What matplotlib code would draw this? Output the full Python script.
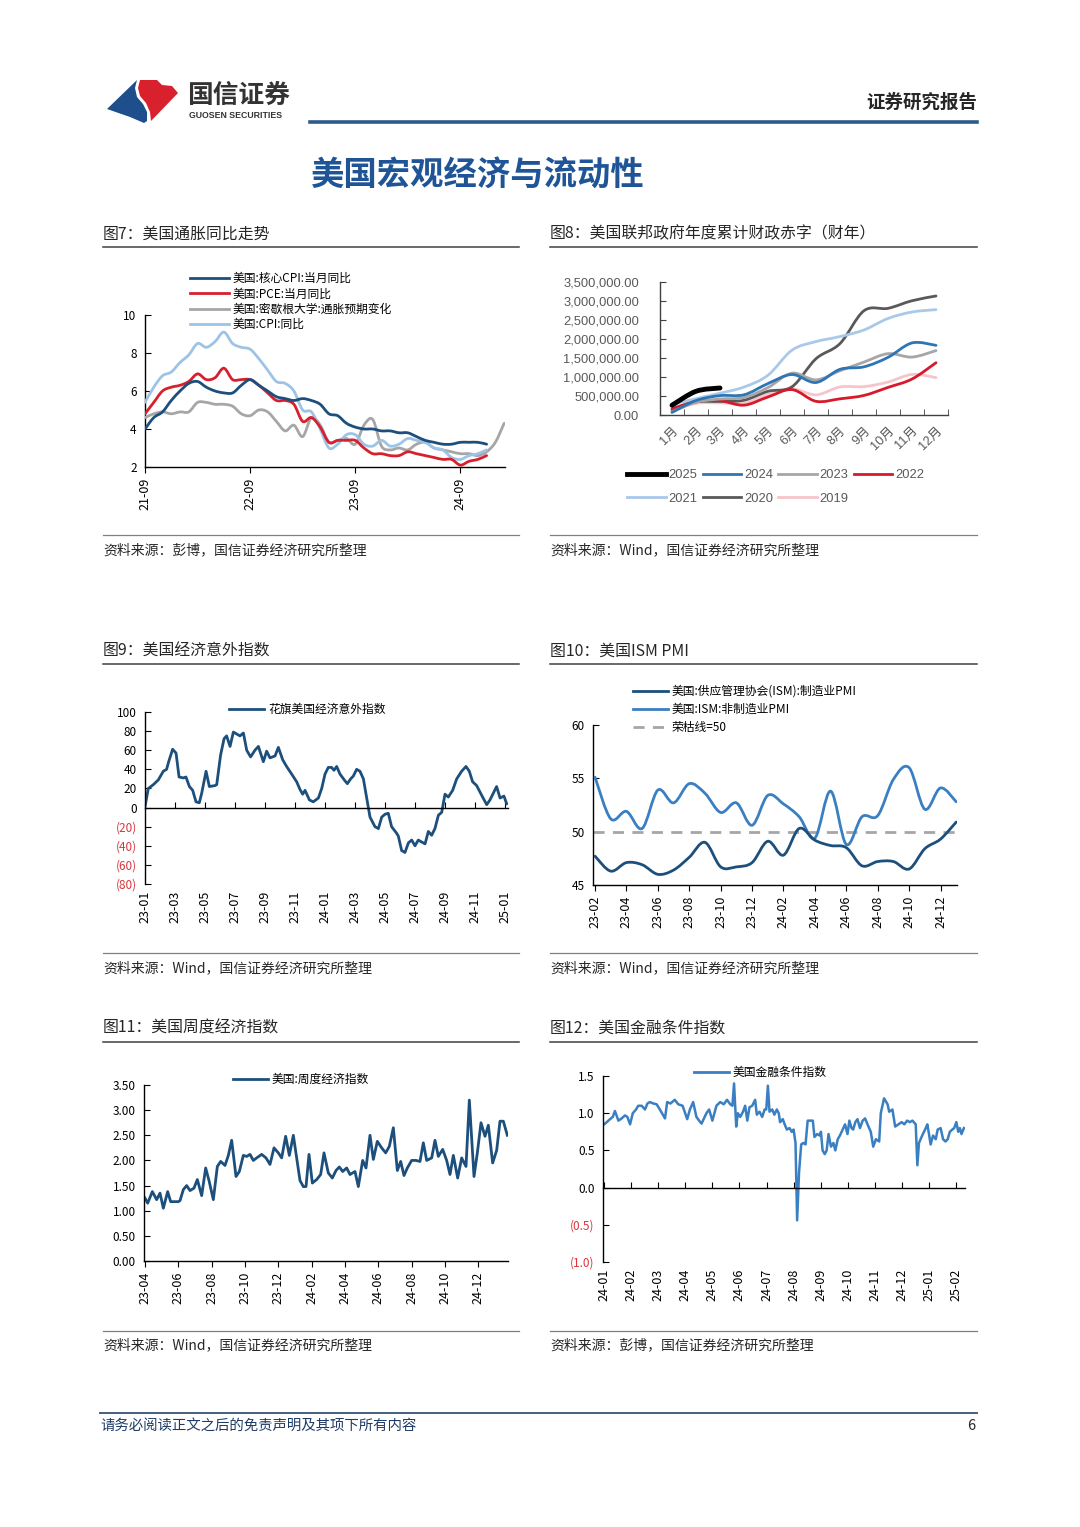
import numpy as np
import matplotlib
matplotlib.use("Agg")
import matplotlib.pyplot as plt
from matplotlib.lines import Line2D
from matplotlib.path import Path
from matplotlib.patches import PathPatch, Polygon

plt.rcParams['font.family'] = ['Noto Sans CJK SC', 'DejaVu Sans']
plt.rcParams['axes.linewidth'] = 1.0

# ---------------- data ----------------
# fig7: monthly, index 0 = 2021-09
core_cpi = [4.0, 4.6, 4.9, 5.5,
            6.0, 6.4, 6.5, 6.2, 6.0, 5.9, 5.9, 6.3, 6.6, 6.3, 6.0, 5.7,
            5.6, 5.5, 5.6, 5.5, 5.3, 4.8, 4.7, 4.3, 4.1, 4.0, 4.0, 3.9,
            3.9, 3.8, 3.8, 3.6, 3.4, 3.3, 3.2, 3.2, 3.3, 3.3, 3.3, 3.2]
pce = [4.8, 5.4, 6.0, 6.2,
       6.3, 6.5, 6.9, 6.6, 6.7, 7.2, 6.6, 6.6, 6.6, 6.3, 5.9, 5.5,
       5.5, 5.3, 4.4, 4.6, 4.1, 3.3, 3.4, 3.4, 3.4, 3.0, 2.7, 2.7,
       2.6, 2.6, 2.8, 2.7, 2.6, 2.5, 2.4, 2.4, 2.1, 2.3, 2.4, 2.6]
michigan = [4.6, 4.8, 4.9, 4.8,
            4.9, 4.9, 5.4, 5.4, 5.3, 5.3, 5.2, 4.8, 4.7, 5.0, 4.9, 4.4,
            3.9, 4.2, 3.6, 4.6, 4.2, 3.3, 3.4, 3.5, 3.2, 4.2, 4.5, 3.1,
            2.9, 3.0, 2.9, 3.2, 3.3, 3.0, 2.9, 2.8, 2.7, 2.7, 2.6, 2.8,
            3.3, 4.3]
cpi = [5.4, 6.2, 6.8, 7.0,
       7.5, 7.9, 8.5, 8.3, 8.6, 9.1, 8.5, 8.3, 8.2, 7.7, 7.1, 6.5,
       6.4, 6.0, 5.0, 4.9, 4.0, 3.0, 3.2, 3.7, 3.7, 3.2, 3.1, 3.4,
       3.1, 3.2, 3.5, 3.4, 3.3, 3.0, 2.9, 2.5, 2.4, 2.6, 2.7, 2.9]
infl_ticks = [0, 12, 24, 36]
infl_ticklabels = ['21-09', '22-09', '23-09', '24-09']

# fig8: cumulative fiscal-year deficit (USD mn)
fy_months = ['1月', '2月', '3月', '4月', '5月', '6月', '7月', '8月', '9月', '10月', '11月', '12月']
fy2025 = [257000, 624000, 711000]
fy2024 = [67000, 381000, 510000, 532000, 828000, 1065000, 855000, 1202000, 1268000, 1517000, 1897000, 1833000]
fy2023 = [88000, 337000, 421000, 460000, 723000, 1101000, 925000, 1165000, 1393000, 1614000, 1524000, 1695000]
fy2022 = [165000, 356000, 377000, 259000, 475000, 668000, 360000, 426000, 515000, 726000, 946000, 1375000]
fy2021 = [284000, 429000, 573000, 736000, 1047000, 1706000, 1932000, 2064000, 2238000, 2540000, 2711000, 2772000]
fy2020 = [134000, 343000, 357000, 389000, 624000, 743000, 1481000, 1880000, 2744000, 2807000, 3007000, 3132000]
fy2019 = [100000, 305000, 319000, 310000, 544000, 691000, 531000, 738000, 747000, 867000, 1067000, 984000]

# fig9: Citi surprise index, x = months since 2023-01
cesi_m = [0, 0.22, 0.56, 0.89, 1.22, 1.44, 1.56, 1.84, 2.07, 2.27,
          2.56, 2.73, 2.96, 3.18, 3.4, 3.62, 3.78, 4.07, 4.29, 4.67,
          4.78, 5.04, 5.27, 5.44, 5.67, 5.89, 6.11, 6.33, 6.56, 6.78,
          7.04, 7.33, 7.56, 7.89, 8.11, 8.33, 8.67, 8.89, 9.18, 9.44,
          9.78, 10.11, 10.33, 10.51, 10.67, 10.96, 11.22, 11.56, 11.78, 12.0,
          12.22, 12.44, 12.6, 12.78, 13.0, 13.33, 13.49, 13.71, 13.89, 14.11,
          14.33, 14.56, 14.78, 15.0, 15.33, 15.56, 15.78, 16.0, 16.22, 16.44,
          16.78, 16.89, 17.11, 17.33, 17.56, 17.78, 18.0, 18.22, 18.44, 18.67,
          18.89, 19.11, 19.33, 19.56, 19.78, 20.0, 20.22, 20.51, 20.78, 21.11,
          21.4, 21.62, 21.84, 22.11, 22.44, 22.78, 23.0, 23.44, 23.67, 23.93,
          24.11]
cesi_v = [1, 20, 24, 29, 38, 40, 47, 61, 57, 32,
          31, 32, 22, 18, 6, 5, 15, 38, 22, 23,
          24, 55, 72, 75, 64, 79, 77, 75, 78, 60,
          53, 60, 64, 48, 59, 52, 54, 63, 50, 43,
          35, 27, 19, 14, 18, 8, 6, 10, 20, 35,
          42, 42, 39, 43, 35, 28, 25, 30, 33, 40,
          38, 30, 10, -10, -20, -22, -10, -7, -6, -20,
          -27, -30, -45, -47, -37, -34, -40, -34, -36, -38,
          -25, -29, -22, -8, -5, 14, 11, 18, 30, 38,
          43, 38, 27, 23, 13, 3, 8, 22, 10, 12,
          4]
cesi_ticklabels = ['23-01', '23-03', '23-05', '23-07', '23-09', '23-11', '24-01',
                   '24-03', '24-05', '24-07', '24-09', '24-11', '25-01']

# fig10: ISM PMI, monthly from 2023-02
ism_ticklabels = ['23-02', '23-04', '23-06', '23-08', '23-10', '23-12',
                  '24-02', '24-04', '24-06', '24-08', '24-10', '24-12']
ism_mfg = [47.7, 46.3, 47.1, 46.9, 46.0, 46.4, 47.6, 49.0, 46.7, 46.7, 47.1, 49.1,
           47.8, 50.3, 49.2, 48.7, 48.5, 46.8, 47.2, 47.2, 46.5, 48.4, 49.3, 50.9]
ism_srv = [55.1, 51.2, 51.9, 50.3, 53.9, 52.7, 54.5, 53.6, 51.8, 52.7, 50.6, 53.4,
           52.6, 51.4, 49.4, 53.8, 48.8, 51.4, 51.5, 54.9, 56.0, 52.1, 54.1, 52.8]

# fig11: weekly economic index, x = months since 2023-04
wei_m = [0, 0.16, 0.44, 0.7, 0.9, 1.1, 1.36, 1.54, 2.0, 2.1,
         2.3, 2.5, 2.7, 2.94, 3.14, 3.4, 3.64, 3.84, 4.1, 4.34,
         4.54, 4.8, 5.0, 5.2, 5.46, 5.66, 5.9, 6.1, 6.3, 6.5,
         6.7, 7.0, 7.26, 7.5, 7.74, 8.0, 8.2, 8.44, 8.66, 8.9,
         9.1, 9.3, 9.5, 9.66, 9.84, 10.04, 10.3, 10.54, 10.74, 11.0,
         11.24, 11.46, 11.66, 11.86, 12.1, 12.3, 12.6, 12.8, 13.06, 13.26,
         13.5, 13.7, 13.94, 14.2, 14.44, 14.66, 14.9, 15.14, 15.34, 15.54,
         15.74, 16.0, 16.26, 16.5, 16.7, 16.9, 17.2, 17.4, 17.6, 17.86,
         18.1, 18.3, 18.5, 18.76, 19.0, 19.26, 19.46, 19.74, 19.94, 20.16,
         20.4, 20.6, 20.86, 21.1, 21.3, 21.5, 21.74]
wei_v = [1.25, 1.15, 1.38, 1.22, 1.35, 1.05, 1.38, 1.18, 1.18, 1.2,
         1.42, 1.5, 1.4, 1.45, 1.62, 1.3, 1.85, 1.6, 1.22, 1.88,
         1.98, 1.9, 2.1, 2.4, 1.68, 1.78, 2.1, 2.08, 2.12, 2.0,
         2.05, 2.12, 2.05, 1.92, 2.25, 2.15, 2.05, 2.48, 2.1, 2.5,
         2.05, 1.6, 1.48, 1.48, 2.12, 1.55, 1.62, 1.72, 2.15, 1.75,
         1.65, 1.8, 1.87, 1.78, 1.85, 1.72, 1.78, 1.48, 2.0, 1.85,
         2.5, 2.02, 2.38, 2.25, 2.15, 2.28, 2.65, 1.8, 1.98, 1.7,
         1.85, 2.0, 2.0, 1.98, 2.35, 2.0, 2.05, 2.4, 2.08, 2.22,
         2.0, 1.72, 2.1, 1.65, 2.05, 1.88, 3.2, 1.68, 2.15, 2.75,
         2.48, 2.7, 1.95, 2.2, 2.78, 2.78, 2.5]
wei_ticklabels = ['23-04', '23-06', '23-08', '23-10', '23-12', '24-02',
                  '24-04', '24-06', '24-08', '24-10', '24-12']

# fig12: financial conditions index, x = months since 2024-01
fci_m = [0.00, 0.10, 0.22, 0.32, 0.40, 0.53, 0.65, 0.77, 0.86, 0.96,
         1.06, 1.18, 1.26, 1.39, 1.51, 1.60, 1.69, 1.82, 1.94, 2.06,
         2.25, 2.33, 2.45, 2.61, 2.74, 2.90, 3.07, 3.17, 3.29, 3.41,
         3.51, 3.60, 3.78, 3.88, 4.00, 4.15, 4.29, 4.42, 4.54, 4.66,
         4.74, 4.80, 4.88, 4.94, 5.03, 5.13, 5.21, 5.29, 5.37, 5.47,
         5.58, 5.64, 5.74, 5.84, 5.93, 5.99, 6.05, 6.11, 6.21, 6.29,
         6.38, 6.45, 6.50, 6.60, 6.67, 6.75, 6.85, 6.93, 7.00, 7.07,
         7.13, 7.20, 7.28, 7.36, 7.44, 7.52, 7.61, 7.71, 7.77, 7.87,
         7.96, 8.01, 8.07, 8.15, 8.22, 8.29, 8.38, 8.47, 8.54, 8.63,
         8.71, 8.81, 8.90, 8.99, 9.06, 9.14, 9.20, 9.28, 9.36, 9.45,
         9.55, 9.64, 9.73, 9.85, 9.94, 10.04, 10.16, 10.22, 10.34, 10.47,
         10.53, 10.65, 10.75, 10.87, 10.99, 11.09, 11.19, 11.29, 11.39, 11.51,
         11.57, 11.63, 11.75, 11.88, 11.94, 12.00, 12.06, 12.15, 12.25, 12.32,
         12.43, 12.52, 12.61, 12.69, 12.77, 12.86, 12.93, 13.01, 13.08, 13.14,
         13.20, 13.29]
fci_v = [0.85, 0.88, 0.92, 0.95, 1.03, 0.90, 0.93, 0.97, 0.95, 0.85,
         1.00, 1.05, 1.10, 1.10, 1.05, 1.13, 1.15, 1.13, 1.12, 1.05,
         0.93, 1.15, 1.13, 1.18, 1.12, 1.10, 0.92, 1.05, 1.15, 0.95,
         0.90, 0.86, 1.00, 1.05, 0.90, 1.10, 1.15, 1.12, 1.18, 1.12,
         1.10, 1.40, 0.82, 1.00, 0.95, 1.02, 1.10, 0.90, 1.08, 1.10,
         1.18, 0.98, 1.02, 0.95, 1.05, 1.05, 1.37, 1.02, 1.05, 0.98,
         1.05, 1.00, 0.88, 0.92, 0.85, 0.78, 0.80, 0.75, 0.78, 0.60,
         -0.44, 0.20, 0.58, 0.60, 0.58, 0.90, 0.90, 0.90, 0.68, 0.72,
         0.70, 0.75, 0.50, 0.45, 0.50, 0.72, 0.55, 0.60, 0.50, 0.65,
         0.70, 0.78, 0.85, 0.72, 0.90, 0.80, 0.78, 0.88, 0.92, 0.80,
         0.90, 0.93, 0.85, 0.75, 0.55, 0.65, 0.62, 1.00, 1.20, 1.12,
         1.02, 1.05, 0.82, 0.85, 0.88, 0.85, 0.90, 0.88, 0.90, 0.85,
         0.30, 0.60, 0.70, 0.80, 0.85, 0.72, 0.58, 0.70, 0.65, 0.78,
         0.80, 0.65, 0.62, 0.65, 0.75, 0.78, 0.80, 0.88, 0.75, 0.80,
         0.72, 0.80]
fci_ticklabels = ['24-01', '24-02', '24-03', '24-04', '24-05', '24-06', '24-07',
                  '24-08', '24-09', '24-10', '24-11', '24-12', '25-01', '25-02']

# ---------------- helpers ----------------
W, H = 1080, 1527
fig = plt.figure(figsize=(W / 100, H / 100), dpi=100)
fig.patch.set_facecolor('white')

def box(l, t, r, b):
    return [l / W, 1 - b / H, (r - l) / W, (b - t) / H]

def ftext(x, y, s, **kw):
    kw.setdefault('va', 'center')
    fig.text(x / W, 1 - y / H, s, **kw)

def fline(x1, x2, y, **kw):
    fig.add_artist(Line2D([x1 / W, x2 / W], [1 - y / H, 1 - y / H],
                          transform=fig.transFigure, **kw))

def fpt(x, y):
    return (x / W, 1 - y / H)

def smooth(ax, x, y, color, lw, zorder=3):
    # Excel-like smoothed line (Catmull-Rom through the data points)
    p = np.column_stack([np.asarray(x, float), np.asarray(y, float)])
    pp = np.vstack([p[0], p, p[-1]])
    verts = [p[0]]
    codes = [Path.MOVETO]
    for i in range(len(p) - 1):
        p0, p1, p2, p3 = pp[i], pp[i + 1], pp[i + 2], pp[i + 3]
        verts += [p1 + (p2 - p0) / 6, p2 - (p3 - p1) / 6, p2]
        codes += [Path.CURVE4] * 3
    ax.add_patch(PathPatch(Path(verts, codes), fill=False, edgecolor=color,
                           lw=lw, capstyle='round', joinstyle='round', zorder=zorder))

def base_axes(ax):
    ax.spines['top'].set_visible(False)
    ax.spines['right'].set_visible(False)
    ax.tick_params(axis='y', direction='in', length=4, labelsize=8.5, pad=6)
    ax.tick_params(axis='x', length=4, labelsize=9)
    ax.set_facecolor('none')

def red_negatives(ax):
    for t in ax.get_yticklabels():
        if t.get_text().startswith('('):
            t.set_color('#d9363e')

# ---------------- header ----------------
blue_logo = [(107, 109), (137, 80), (135, 88), (137, 97), (143, 104), (147, 112),
             (147, 121), (144, 123), (130, 117)]
red_logo = [(140, 80), (157, 80), (162, 85), (172, 86), (178, 93), (151, 121),
            (150, 112), (146, 103), (140, 96), (138, 88)]
fig.add_artist(Polygon([fpt(*p) for p in blue_logo], closed=True, transform=fig.transFigure,
                       facecolor='#1f4e8c', edgecolor='none'))
fig.add_artist(Polygon([fpt(*p) for p in red_logo], closed=True, transform=fig.transFigure,
                       facecolor='#d9212e', edgecolor='none'))
ftext(187, 95, '国信证券', fontsize=18.5, color='#333333', fontweight='bold')
ftext(189, 116, 'GUOSEN SECURITIES', fontsize=6.3, color='#333333', fontweight='bold',
      family=['Liberation Sans Narrow', 'Liberation Sans', 'DejaVu Sans'])
ftext(977, 102, '证券研究报告', fontsize=13.3, color='#262626', fontweight='bold', ha='right')
fline(310, 977, 122, color='#2f5a8a', lw=2.6)
ftext(477, 176, '美国宏观经济与流动性', fontsize=24, color='#1f5597', fontweight='bold', ha='center')

# section frames
sections = [
    (103, 519, 234, 247, 535, 550, '图7：美国通胀同比走势', '资料来源：彭博，国信证券经济研究所整理'),
    (550, 977, 234, 247, 535, 550, '图8：美国联邦政府年度累计财政赤字（财年）', '资料来源：Wind，国信证券经济研究所整理'),
    (103, 519, 651, 664, 953, 968, '图9：美国经济意外指数', '资料来源：Wind，国信证券经济研究所整理'),
    (550, 977, 651, 664, 953, 968, '图10：美国ISM PMI', '资料来源：Wind，国信证券经济研究所整理'),
    (103, 519, 1028, 1042, 1331, 1345, '图11：美国周度经济指数', '资料来源：Wind，国信证券经济研究所整理'),
    (550, 977, 1028, 1042, 1331, 1345, '图12：美国金融条件指数', '资料来源：彭博，国信证券经济研究所整理'),
]
for x1, x2, ty, l1, l2, sy, title, src in sections:
    ftext(x1, ty, title, fontsize=11.4, color='#262626', fontweight='medium')
    fline(x1, x2, l1, color='#404040', lw=1.1)
    fline(x1, x2, l2, color='#808080', lw=0.9)
    ftext(x1, sy, src, fontsize=10, color='#262626')

# footer
fline(100, 977, 1413, color='#44607f', lw=1.4)
ftext(100, 1426, '请务必阅读正文之后的免责声明及其项下所有内容', fontsize=10.4,
      color='#1f3b66', style='italic')
ftext(975, 1426, '6', fontsize=10.5, color='#262626', ha='right')

# ---------------- fig 7 ----------------
ax1 = fig.add_axes(box(145, 315, 505, 467))
base_axes(ax1)
m1 = np.arange(len(core_cpi))
smooth(ax1, np.arange(len(michigan)), michigan, '#a6a6a6', 2.0)
smooth(ax1, m1, cpi, '#9dc3e6', 2.0)
smooth(ax1, m1, pce, '#d7202e', 2.0)
smooth(ax1, m1, core_cpi, '#1c4f7c', 2.0, zorder=4)
ax1.set_xlim(0, 41.1)
ax1.set_ylim(2, 10)
ax1.set_yticks([2, 4, 6, 8, 10])
ax1.set_xticks(infl_ticks, infl_ticklabels, rotation=90)
h1 = [Line2D([], [], color=c, lw=2) for c in ['#1c4f7c', '#d7202e', '#a6a6a6', '#9dc3e6']]
ax1.legend(h1, ['美国:核心CPI:当月同比', '美国:PCE:当月同比', '美国:密歇根大学:通胀预期变化', '美国:CPI:同比'],
           loc='upper left', bbox_to_anchor=fpt(190, 272), bbox_transform=fig.transFigure,
           frameon=False, fontsize=8.5, handlelength=3.3, handletextpad=0.3,
           labelspacing=0.2, borderpad=0, borderaxespad=0)

# ---------------- fig 8 ----------------
ax2 = fig.add_axes(box(660, 282, 948, 415))
base_axes(ax2)
for s in ['left', 'bottom']:
    ax2.spines[s].set_color('#404040')
fy_series = [('2019', fy2019, '#f7c4cb', 2.0), ('2020', fy2020, '#595959', 2.0),
             ('2021', fy2021, '#a9c9ea', 2.0), ('2022', fy2022, '#d7192a', 2.0),
             ('2023', fy2023, '#a6a6a6', 2.0), ('2024', fy2024, '#2e75b6', 2.0),
             ('2025', fy2025, '#000000', 3.5)]
fy_handles = {}
for name, vals, col, lw in fy_series:
    smooth(ax2, np.arange(len(vals)), vals, col, lw)
    fy_handles[name] = Line2D([], [], color=col, lw=lw)
ax2.set_xlim(-0.5, 11.5)
ax2.set_ylim(0, 3500000)
yt2 = np.arange(0, 3500001, 500000)
ax2.set_yticks(yt2, [f'{v:,.2f}' for v in yt2])
ax2.tick_params(axis='y', labelsize=9.3, labelcolor='#595959', color='#404040', pad=15)
ax2.set_xticks(np.arange(12), fy_months, rotation=45, ha='right', rotation_mode='anchor')
ax2.tick_params(axis='x', which='major', length=0, labelsize=9.3, labelcolor='#595959', pad=7)
ax2.set_xticks(np.arange(12) + 0.5, minor=True)
ax2.tick_params(axis='x', which='minor', direction='in', length=4, color='#404040')
for t in ax2.get_yticklabels() + ax2.get_xticklabels():
    t.set_family(['Liberation Sans', 'Noto Sans CJK SC'])
order = ['2025', '2021', '2024', '2020', '2023', '2019', '2022']
leg2 = ax2.legend([fy_handles[k] for k in order], order, ncol=4, loc='upper left',
                  bbox_to_anchor=fpt(627, 469), bbox_transform=fig.transFigure,
                  frameon=False, fontsize=9.3, handlelength=3.0, handletextpad=0.2,
                  columnspacing=0.4, labelspacing=0.9, borderpad=0, borderaxespad=0)
for t in leg2.get_texts():
    t.set_color('#595959')
    t.set_family(['Liberation Sans', 'DejaVu Sans'])

# ---------------- fig 9 ----------------
ax3 = fig.add_axes(box(145, 712, 508, 884))
base_axes(ax3)
ax3.plot(cesi_m, cesi_v, color='#1c4f7c', lw=2.0, solid_joinstyle='round')
ax3.set_xlim(0, 24.2)
ax3.set_ylim(-80, 100)
yt3 = np.arange(-80, 101, 20)
ax3.set_yticks(yt3, [f'({-v})' if v < 0 else f'{v}' for v in yt3])
red_negatives(ax3)
ax3.spines['bottom'].set_position(('data', 0))
xt3 = np.arange(0, 25, 2)
ax3.set_xticks(xt3)
ax3.tick_params(axis='x', direction='in', length=4, labelbottom=False)
sec3 = ax3.secondary_xaxis('bottom')
sec3.set_xticks(xt3, cesi_ticklabels, rotation=90)
sec3.tick_params(length=0, labelsize=9, pad=5)
sec3.spines['bottom'].set_visible(False)
ax3.legend([Line2D([], [], color='#1c4f7c', lw=2)], ['花旗美国经济意外指数'], loc='upper left',
           bbox_to_anchor=fpt(229, 703), bbox_transform=fig.transFigure, frameon=False,
           fontsize=8.5, handlelength=3.0, handletextpad=0.3, borderpad=0, borderaxespad=0)

# ---------------- fig 10 ----------------
ax4 = fig.add_axes(box(593, 725, 957, 885))
base_axes(ax4)
m4 = np.arange(len(ism_mfg))
ax4.axhline(50, color='#a6a6a6', lw=2.0, dashes=(4, 3), zorder=2)
smooth(ax4, m4, ism_srv, '#3a7fc1', 2.0)
smooth(ax4, m4, ism_mfg, '#1c4f7c', 2.0, zorder=4)
ax4.set_xlim(-0.13, 23.05)
ax4.set_ylim(45, 60)
ax4.set_yticks([45, 50, 55, 60])
ax4.set_xticks(np.arange(0, 24, 2), ism_ticklabels, rotation=90)
h4 = [Line2D([], [], color='#1c4f7c', lw=2), Line2D([], [], color='#3a7fc1', lw=2),
      Line2D([], [], color='#a6a6a6', lw=2, dashes=(4, 3))]
ax4.legend(h4, ['美国:供应管理协会(ISM):制造业PMI', '美国:ISM:非制造业PMI', '荣枯线=50'],
           loc='upper left', bbox_to_anchor=fpt(633, 685), bbox_transform=fig.transFigure,
           frameon=False, fontsize=8.5, handlelength=3.0, handletextpad=0.3,
           labelspacing=0.42, borderpad=0, borderaxespad=0)

# ---------------- fig 11 ----------------
ax5 = fig.add_axes(box(144, 1085, 508, 1261))
base_axes(ax5)
ax5.plot(wei_m, wei_v, color='#1c4f7c', lw=2.0, solid_joinstyle='round')
ax5.set_xlim(-0.06, 21.78)
ax5.set_ylim(0, 3.5)
yt5 = np.arange(0, 3.51, 0.5)
ax5.set_yticks(yt5, [f'{v:.2f}' for v in yt5])
ax5.set_xticks(np.arange(0, 21, 2), wei_ticklabels, rotation=90)
ax5.legend([Line2D([], [], color='#1c4f7c', lw=2)], ['美国:周度经济指数'], loc='upper left',
           bbox_to_anchor=fpt(233, 1073), bbox_transform=fig.transFigure, frameon=False,
           fontsize=8.5, handlelength=3.0, handletextpad=0.3, borderpad=0, borderaxespad=0)

# ---------------- fig 12 ----------------
ax6 = fig.add_axes(box(603, 1076, 965, 1262))
base_axes(ax6)
ax6.plot(fci_m, fci_v, color='#3a7fc1', lw=1.8, solid_joinstyle='round')
ax6.set_xlim(-0.04, 13.33)
ax6.set_ylim(-1.0, 1.5)
yt6 = [-1.0, -0.5, 0.0, 0.5, 1.0, 1.5]
ax6.set_yticks(yt6, [f'({-v:.1f})' if v < 0 else f'{v:.1f}' for v in yt6])
red_negatives(ax6)
ax6.spines['bottom'].set_position(('data', 0))
xt6 = np.arange(0, 14)
ax6.set_xticks(xt6)
ax6.tick_params(axis='x', direction='in', length=4, labelbottom=False)
sec6 = ax6.secondary_xaxis('bottom')
sec6.set_xticks(xt6, fci_ticklabels, rotation=90)
sec6.tick_params(length=0, labelsize=9, pad=5)
sec6.spines['bottom'].set_visible(False)
ax6.legend([Line2D([], [], color='#3a7fc1', lw=2)], ['美国金融条件指数'], loc='upper left',
           bbox_to_anchor=fpt(694, 1066), bbox_transform=fig.transFigure, frameon=False,
           fontsize=8.5, handlelength=3.0, handletextpad=0.3, borderpad=0, borderaxespad=0)

fig.savefig('out.png', dpi=100)
